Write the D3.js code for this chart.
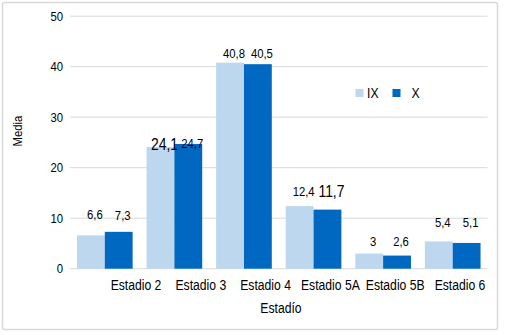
<!DOCTYPE html>
<html>
<head>
<meta charset="utf-8">
<script src="https://cdn.jsdelivr.net/npm/d3@7"></script>
<style>
  html, body { margin: 0; padding: 0; background: #fff; }
  svg { display: block; }
  text { font-family: "Liberation Sans", Arial, sans-serif; fill: #000; }
</style>
</head>
<body>
<svg id="chart" width="505" height="335"></svg>
<script>
// ---- data ----
const categories = ["Estadio 2", "Estadio 3", "Estadio 4", "Estadio 5A", "Estadio 5B", "Estadio 6"];
const seriesNames = ["IX", "X"];
const valuesIX = [6.6, 24.1, 40.8, 12.4, 3, 5.4];
const valuesX  = [7.3, 24.7, 40.5, 11.7, 2.6, 5.1];
const labelsIX = ["6,6", "24,1", "40,8", "12,4", "3", "5,4"];
const labelsX  = ["7,3", "24,7", "40,5", "11,7", "2,6", "5,1"];
const yTicks = [0, 10, 20, 30, 40, 50];
const xTitle = "Estadío";
const yTitle = "Media";

// ---- styling / layout ----
const colors = ["#BDD7EE", "#0068C0"];
const SX = 0.87; // horizontal text compression
const labelSizeIX = [13, 16, 13, 13, 13, 13];
const labelSizeX  = [13, 13, 13, 16, 13, 13];
const labelGapIX = [16, -3, 5, 10, 7.5, 14.7];
const labelGapX  = [12, -4, 6.5, 12.6, 9.6, 16.3];

const svg = d3.select("#chart");

// border
svg.append("rect")
  .attr("x", 2.5).attr("y", 2.5).attr("width", 495).attr("height", 327)
  .attr("rx", 2)
  .attr("fill", "#fff").attr("stroke", "#d9d9d9").attr("stroke-width", 1.5);

const x0 = d3.scaleBand().domain(categories).range([70, 487.5]).paddingInner(0.2).paddingOuter(0.1);
const x1 = d3.scaleBand().domain(seriesNames).range([0, x0.bandwidth()]).padding(0);
const xLab = d3.scalePoint().domain(categories).range([136, 460]);
const y = d3.scaleLinear().domain([0, 50]).range([268.7, 16.2]);

function txt(g, str, x, yy, size, anchor, extra) {
  return g.append("text")
    .attr("transform", `translate(${x},${yy}) scale(${SX},1)` + (extra || ""))
    .attr("font-size", size)
    .attr("text-anchor", anchor)
    .text(str);
}

// gridlines
const grid = svg.append("g");
grid.selectAll("line").data(yTicks).join("line")
  .attr("x1", 70).attr("x2", 487.5)
  .attr("y1", d => y(d)).attr("y2", d => y(d))
  .attr("stroke", "#d9d9d9").attr("stroke-width", 1);

// y tick labels
const yl = svg.append("g");
yTicks.forEach(t => {
  txt(yl, String(t), 63, y(t) + 4.5, 13, "end");
});

// bars
const series = [valuesIX, valuesX];
const labels = [labelsIX, labelsX];
const sizes = [labelSizeIX, labelSizeX];
const gaps = [labelGapIX, labelGapX];
const barsG = svg.append("g");
series.forEach((vals, si) => {
  barsG.append("g").selectAll("rect").data(vals).join("rect")
    .attr("x", (d, i) => x0(categories[i]) + x1(seriesNames[si]))
    .attr("width", x1.bandwidth())
    .attr("y", d => y(d))
    .attr("height", d => y(0) - y(d))
    .attr("fill", colors[si]);
});

// data labels
const lg = svg.append("g");
series.forEach((vals, si) => {
  vals.forEach((v, i) => {
    const cx = x0(categories[i]) + x1(seriesNames[si]) + x1.bandwidth() / 2 + 4;
    txt(lg, labels[si][i], cx, y(v) - gaps[si][i], sizes[si][i], "middle");
  });
});

// x tick labels
const xl = svg.append("g");
categories.forEach(c => {
  txt(xl, c, xLab(c), 290, 14, "middle");
});

// axis titles
txt(svg, xTitle, 281, 313, 14, "middle");
svg.append("text")
  .attr("transform", `translate(22,131) rotate(-90) scale(${SX},1)`)
  .attr("font-size", 13).attr("text-anchor", "middle").text(yTitle);

// legend
const leg = svg.append("g");
const legX = [355.5, 392.5];
seriesNames.forEach((n, i) => {
  leg.append("rect").attr("x", legX[i]).attr("y", 89).attr("width", 8).attr("height", 8).attr("fill", colors[i]);
  txt(leg, n, legX[i] + (i === 0 ? 11.5 : 19), 97.5, 14, "start");
});
</script>
</body>
</html>
